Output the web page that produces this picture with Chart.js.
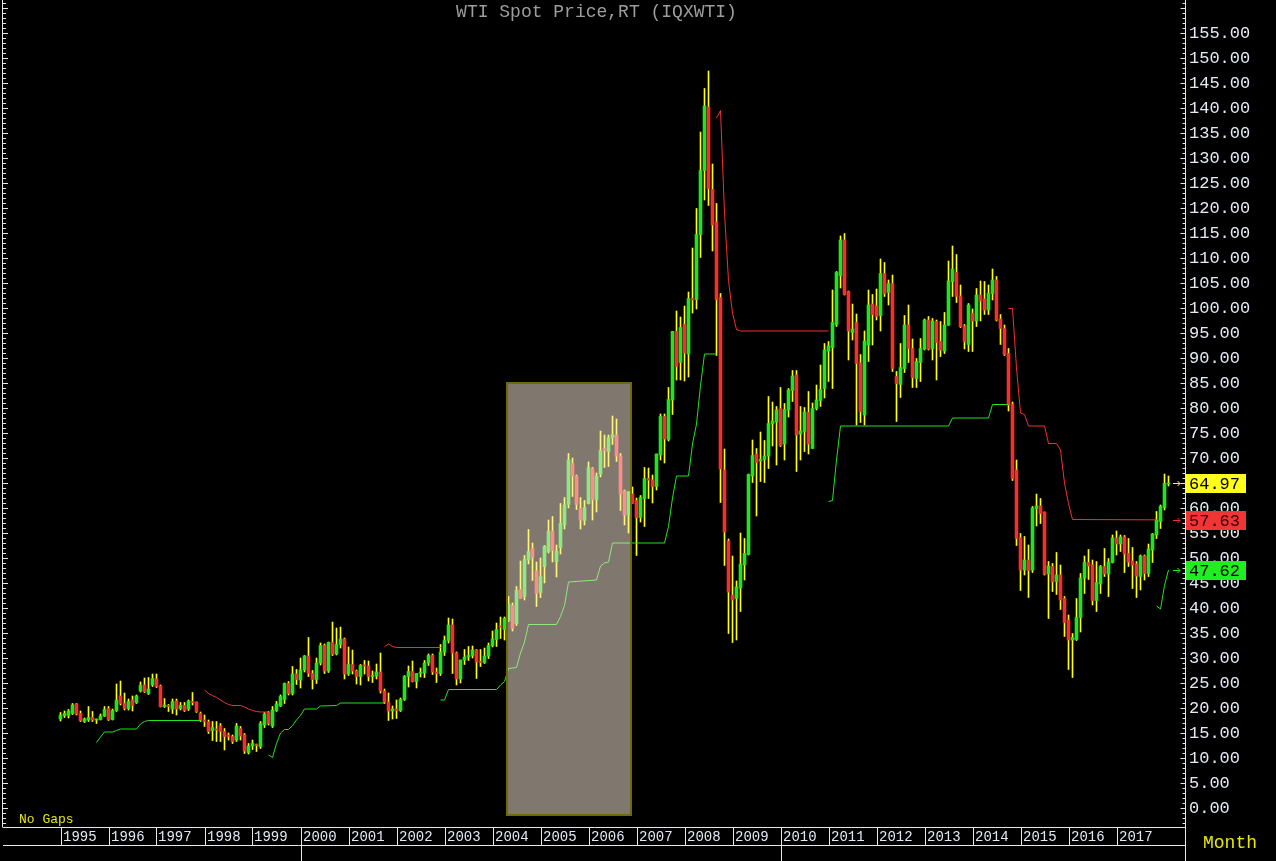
<!DOCTYPE html>
<html>
<head>
<meta charset="utf-8">
<title>WTI Spot Price,RT (IQXWTI)</title>
<script src="https://cdn.jsdelivr.net/npm/chart.js@4.4.1/dist/chart.umd.min.js"></script>
<style>
  html, body { margin: 0; padding: 0; background: #000; overflow: hidden; }
  canvas { display: block; }
</style>
</head>
<body>
<canvas id="wtiChart" width="1276" height="861"></canvas>
<script>
// monthly candles, index 0 = Jan 1995, last = Feb 2018
const openPrices = [
    17.8, 18.5, 18.5, 18.9, 20.8, 18.9, 17.3, 17.6, 18.1, 17.6, 17.7, 18.4,
    19.9, 17.7, 19.5, 22.4, 20.9, 19.9, 21.6, 21.1, 23.4, 24.6, 22.9, 24.6,
    25.8, 24.4, 20.3, 20.5, 19.8, 21.4, 19.9, 20.5, 19.8, 21.3, 21.2, 18.9,
    17.6, 17.2, 15.5, 15.8, 16.4, 15.3, 14.6, 14.3, 13.6, 15.9, 14.6, 11.1,
    12.4, 12.7, 12.3, 16.6, 19.1, 16.4, 19.5, 20.4, 21.7, 24.9, 22.9, 26.8,
    25.6, 27.6, 30.4, 26.9, 25.7, 29.0, 32.5, 27.4, 33.1, 30.8, 32.7, 33.8,
    26.8, 28.7, 27.4, 26.3, 28.5, 28.4, 26.3, 26.4, 27.2, 23.4, 21.2, 19.4,
    19.8, 19.5, 21.7, 26.3, 27.3, 25.3, 26.9, 27.0, 29.0, 30.5, 27.2, 26.9,
    31.2, 33.5, 36.6, 31.0, 25.8, 29.6, 30.2, 30.5, 31.6, 29.2, 29.1, 30.4,
    32.5, 33.7, 36.4, 35.7, 37.5, 40.5, 36.9, 43.7, 42.3, 49.6, 51.9, 47.4,
    43.1, 48.3, 51.3, 55.4, 49.3, 52.1, 56.6, 60.7, 68.9, 66.4, 59.9, 57.5,
    60.9, 67.9, 61.7, 66.8, 71.9, 71.3, 74.1, 74.6, 70.4, 63.4, 58.6, 62.8,
    61.5, 58.1, 61.9, 65.9, 65.6, 64.3, 70.6, 78.3, 73.7, 81.6, 95.3, 89.1,
    96.7, 90.8, 101.9, 101.7, 114.7, 127.5, 140.2, 123.7, 117.2, 102.1, 67.6, 53.4,
    42.6, 41.9, 44.0, 48.6, 50.7, 66.4, 70.8, 69.4, 69.7, 70.4, 76.8, 77.2,
    79.9, 72.8, 79.6, 83.5, 86.6, 74.8, 75.3, 79.1, 71.9, 79.9, 81.5, 83.9,
    91.4, 92.1, 96.7, 106.5, 113.6, 103.3, 95.1, 97.1, 89.0, 78.6, 92.6, 100.8,
    100.4, 98.5, 106.9, 103.1, 104.9, 86.3, 84.7, 87.9, 96.6, 91.9, 85.9, 89.1,
    91.8, 97.6, 91.8, 97.3, 93.3, 91.4, 96.6, 105.3, 107.1, 102.4, 96.4, 92.7,
    98.9, 97.4, 102.6, 101.8, 99.6, 102.9, 105.6, 97.8, 95.9, 90.9, 80.8, 67.6,
    54.0, 47.6, 49.6, 47.6, 59.9, 60.4, 59.2, 46.8, 48.3, 45.3, 46.6, 41.9,
    37.6, 33.6, 33.7, 38.1, 46.0, 49.1, 48.6, 41.5, 44.8, 48.3, 46.8, 49.1,
    54.0, 52.8, 54.2, 50.9, 49.4, 48.8, 46.3, 50.4, 46.9, 51.6, 54.6, 57.3,
    60.1, 64.8
];
const highPrices = [
    19.1, 19.4, 19.7, 20.9, 20.9, 19.4, 18.0, 20.3, 19.3, 17.8, 18.8, 20.3,
    20.3, 19.8, 24.8, 25.4, 23.0, 21.8, 22.4, 22.6, 25.2, 26.0, 26.1, 26.8,
    26.8, 24.6, 21.9, 20.7, 21.8, 21.8, 21.1, 21.1, 21.6, 23.1, 21.2, 19.2,
    18.6, 17.6, 17.3, 17.3, 16.9, 15.9, 15.0, 14.6, 16.9, 16.3, 14.9, 12.9,
    13.6, 12.8, 17.3, 19.1, 19.3, 20.3, 21.3, 22.6, 25.0, 25.3, 28.3, 27.7,
    30.0, 30.5, 34.1, 27.5, 30.0, 33.0, 32.8, 33.2, 37.2, 36.0, 36.2, 34.0,
    32.2, 31.6, 27.6, 28.7, 29.5, 29.4, 27.4, 28.8, 31.0, 23.8, 23.0, 20.4,
    21.6, 22.0, 26.5, 28.4, 29.4, 26.9, 28.0, 29.5, 30.8, 30.8, 28.0, 32.7,
    34.4, 38.0, 37.8, 31.2, 29.6, 31.7, 32.3, 32.4, 31.7, 31.7, 32.0, 33.0,
    35.4, 37.0, 38.2, 38.2, 42.3, 41.0, 44.3, 49.4, 50.5, 55.7, 53.0, 49.2,
    50.0, 52.5, 57.6, 58.3, 52.6, 60.9, 62.1, 70.9, 70.0, 66.6, 62.1, 61.5,
    69.2, 68.1, 67.0, 75.4, 74.6, 74.6, 78.4, 77.8, 70.9, 63.6, 62.5, 64.2,
    62.0, 62.5, 68.1, 68.0, 66.6, 70.8, 78.8, 78.8, 84.1, 95.3, 99.4, 98.2,
    100.4, 103.2, 112.0, 119.9, 135.2, 143.9, 147.4, 128.8, 120.9, 102.9, 71.8, 53.8,
    50.4, 45.4, 55.0, 53.9, 66.8, 73.6, 71.9, 75.2, 73.5, 82.3, 81.2, 80.3,
    84.1, 80.9, 83.9, 87.5, 87.5, 80.3, 80.1, 83.3, 81.0, 84.6, 88.6, 92.9,
    93.3, 103.6, 107.3, 114.4, 114.9, 103.4, 100.8, 98.8, 90.7, 95.4, 103.6, 102.7,
    103.8, 109.8, 109.1, 105.6, 106.6, 87.3, 92.9, 98.5, 100.6, 93.8, 89.9, 93.9,
    97.8, 98.3, 97.9, 97.6, 97.3, 99.1, 109.4, 112.4, 110.7, 104.6, 96.7, 100.9,
    99.8, 103.9, 105.4, 105.3, 104.6, 107.8, 106.3, 98.7, 96.6, 91.9, 81.2, 69.6,
    54.9, 54.3, 52.6, 60.3, 62.8, 61.9, 59.2, 49.3, 48.9, 51.1, 48.6, 42.3,
    38.6, 34.9, 41.9, 46.9, 50.4, 51.7, 49.6, 49.3, 48.5, 51.9, 49.9, 54.6,
    55.4, 54.6, 54.5, 53.9, 52.1, 49.3, 50.6, 50.6, 52.8, 54.9, 59.3, 60.6,
    66.8, 66.4
];
const lowPrices = [
    17.4, 18.1, 18.0, 18.7, 18.6, 17.3, 17.1, 17.3, 17.3, 16.9, 17.6, 18.3,
    17.5, 17.6, 19.3, 20.6, 19.6, 19.6, 19.4, 20.9, 23.2, 23.1, 22.7, 24.3,
    24.1, 20.2, 20.1, 19.3, 18.9, 18.6, 19.6, 19.3, 19.5, 20.6, 19.1, 17.3,
    16.3, 14.9, 13.5, 13.3, 13.3, 11.6, 13.6, 12.9, 13.3, 13.6, 10.9, 10.8,
    11.7, 11.3, 11.9, 16.1, 16.6, 16.1, 19.3, 20.3, 20.9, 22.6, 22.6, 24.7,
    24.0, 27.2, 26.3, 23.8, 24.9, 28.6, 26.9, 27.1, 30.5, 30.6, 32.0, 25.8,
    26.5, 26.8, 24.8, 24.6, 26.8, 25.4, 25.1, 25.8, 23.0, 20.9, 17.5, 17.8,
    17.9, 19.3, 21.5, 24.2, 25.2, 24.0, 26.2, 26.1, 28.5, 26.7, 25.1, 26.5,
    30.5, 33.0, 26.9, 24.6, 25.0, 28.7, 29.5, 30.0, 25.9, 28.3, 28.9, 29.9,
    32.2, 32.3, 33.9, 33.6, 37.3, 35.4, 36.5, 41.9, 41.6, 48.8, 45.5, 40.3,
    42.1, 45.0, 51.0, 49.2, 46.2, 50.8, 55.8, 60.0, 62.3, 59.7, 55.8, 56.6,
    60.8, 57.6, 59.2, 66.2, 68.1, 68.3, 72.7, 69.3, 59.5, 56.6, 55.0, 60.9,
    50.5, 57.2, 56.3, 61.9, 61.0, 63.6, 69.6, 69.0, 73.4, 78.7, 85.6, 85.6,
    85.4, 86.2, 99.0, 99.8, 110.1, 121.6, 120.5, 111.4, 90.5, 61.1, 48.5, 34.9,
    33.1, 33.6, 39.3, 45.6, 50.6, 65.1, 58.4, 65.3, 65.1, 67.9, 72.4, 68.6,
    72.3, 69.6, 78.2, 81.3, 67.3, 69.6, 71.3, 70.8, 71.9, 79.6, 80.3, 82.0,
    85.3, 83.9, 96.3, 104.0, 102.6, 89.6, 93.6, 76.6, 77.1, 76.6, 89.3, 92.6,
    97.6, 95.4, 102.3, 100.6, 87.3, 77.3, 82.1, 87.1, 89.1, 84.1, 84.1, 85.3,
    91.6, 91.6, 89.6, 85.6, 90.3, 90.9, 96.5, 102.3, 101.1, 96.1, 91.8, 91.3,
    91.3, 96.3, 97.4, 98.7, 98.7, 101.6, 97.4, 92.7, 90.5, 79.4, 65.5, 52.5,
    43.5, 46.6, 42.1, 47.1, 56.4, 56.9, 46.6, 37.9, 43.3, 42.7, 39.7, 34.3,
    27.7, 26.1, 33.5, 35.2, 42.9, 45.7, 40.6, 39.3, 42.9, 46.3, 42.3, 49.0,
    50.6, 51.3, 47.1, 48.3, 43.9, 42.1, 43.6, 45.6, 46.3, 49.1, 53.9, 55.9,
    59.6, 64.4
];
const closePrices = [
    18.6, 18.9, 19.4, 20.6, 18.8, 17.5, 17.8, 18.1, 17.6, 17.7, 18.4, 19.7,
    17.7, 19.5, 21.6, 20.9, 19.9, 21.3, 20.5, 22.4, 24.5, 23.3, 23.8, 25.9,
    24.3, 20.3, 20.6, 20.3, 21.3, 19.8, 20.5, 19.5, 21.4, 21.1, 19.3, 17.6,
    17.3, 15.3, 16.1, 15.6, 15.3, 14.3, 14.3, 13.3, 16.4, 14.4, 11.4, 12.4,
    12.9, 12.5, 16.9, 18.8, 16.9, 19.6, 20.8, 22.3, 24.9, 22.9, 26.8, 25.7,
    27.6, 30.4, 26.9, 25.7, 29.0, 32.5, 27.4, 33.1, 30.8, 32.7, 33.8, 26.8,
    28.7, 27.4, 26.3, 28.5, 28.4, 26.3, 26.4, 27.2, 23.4, 21.2, 19.4, 19.8,
    19.5, 21.7, 26.3, 27.3, 25.3, 26.9, 27.0, 29.0, 30.5, 27.2, 26.9, 31.2,
    33.5, 36.6, 31.0, 25.8, 29.6, 30.2, 30.5, 31.6, 29.2, 29.1, 30.4, 32.5,
    33.8, 35.7, 36.2, 37.9, 40.8, 35.9, 43.5, 41.9, 49.7, 51.3, 50.1, 42.9,
    46.3, 52.3, 55.3, 51.5, 51.4, 56.9, 60.6, 69.6, 66.4, 60.7, 57.6, 60.1,
    68.1, 61.7, 66.4, 71.5, 71.5, 74.1, 74.6, 70.4, 62.8, 58.6, 63.3, 60.9,
    58.1, 62.1, 65.9, 65.6, 64.3, 70.8, 78.3, 73.8, 81.7, 95.3, 88.3, 96.1,
    91.0, 101.9, 101.6, 114.7, 127.5, 140.4, 123.9, 116.6, 101.7, 67.8, 55.2, 43.2,
    41.6, 44.2, 48.8, 50.9, 66.7, 70.5, 69.1, 69.7, 70.4, 76.9, 77.4, 79.6,
    72.5, 79.7, 83.6, 86.4, 74.6, 75.4, 79.2, 72.8, 79.9, 81.6, 83.7, 91.6,
    92.4, 97.1, 107.1, 113.6, 102.7, 95.4, 95.8, 88.9, 79.3, 93.4, 100.6, 98.7,
    98.3, 106.9, 102.9, 104.9, 87.9, 84.9, 88.1, 96.6, 91.9, 86.1, 89.3, 91.9,
    97.6, 91.8, 97.4, 93.1, 91.6, 96.6, 105.4, 107.8, 102.3, 96.3, 93.3, 100.6,
    97.4, 102.6, 101.4, 99.6, 102.9, 105.6, 97.6, 95.9, 90.7, 80.6, 65.9, 53.9,
    47.6, 49.6, 47.5, 60.0, 60.4, 58.9, 46.8, 48.4, 45.3, 46.6, 41.6, 37.1,
    33.6, 34.1, 38.1, 46.0, 49.1, 48.4, 41.5, 45.1, 48.3, 46.8, 49.2, 54.0,
    52.8, 54.2, 50.8, 49.2, 48.6, 46.4, 50.4, 46.9, 51.8, 54.8, 57.6, 60.3,
    64.9, 64.97
];

// trailing stop lines as [month index, price] breakpoints, one list per segment
const greenStops = [
    [[9, 13.1], [10, 14.2], [11, 15.2], [13, 15.2], [14, 15.5], [15, 15.8], [19, 15.8], [20, 16.8], [21, 17.3], [22, 17.5], [35, 17.5]],
    [[52, 10.6], [53, 10.1], [54, 12.9], [55, 15.0], [56, 15.7], [57, 15.7], [58, 16.5], [59, 17.6], [60, 18.5], [61, 19.8], [64, 19.8], [65, 20.4], [69, 20.5], [70, 21.0], [81, 21.0]],
    [[95, 21.6], [96, 21.6], [97, 23.7], [109, 23.7], [110, 24.6], [111, 25.3], [112, 27.9], [114, 28.1], [115, 31.0], [116, 33.2], [117, 36.7], [124, 36.7], [125, 38.3], [126, 40.5], [127, 45.2], [134, 45.6], [135, 48.4], [136, 49.0], [137, 49.2], [138, 53.0], [151, 53.0], [152, 56.3], [153, 62.0], [154, 66.4], [157, 66.4], [158, 72.8], [159, 76.8], [160, 84.5], [161, 90.8], [164, 90.8]],
    [[192, 61.3], [193, 61.5], [194, 69.6], [195, 76.4], [222, 76.4], [223, 78.0], [232, 78.0], [233, 80.7], [237, 80.7]],
    [[274, 40.4], [275, 39.8], [276, 44.5], [277, 47.62]]
];
const redStops = [
    [[36, 23.6], [37, 22.9], [38, 22.5], [39, 22.1], [40, 21.6], [41, 21.1], [42, 20.7], [43, 20.5], [45, 20.5], [46, 20.2], [47, 19.8], [48, 19.5], [49, 19.3], [50, 19.2], [52, 19.2]],
    [[81, 32.3], [82, 32.8], [83, 32.3], [84, 32.1], [95, 32.1]],
    [[164, 138.0], [165, 139.5], [166, 119.0], [167, 105.5], [168, 99.0], [169, 95.7], [170, 95.4], [192, 95.4]],
    [[237, 99.9], [238, 99.9], [239, 88.0], [240, 79.0], [241, 78.7], [242, 76.4], [246, 76.4], [247, 72.9], [249, 72.9], [250, 71.6], [251, 65.0], [252, 60.9], [253, 57.7], [274, 57.63]]
];

const years = [1995, 1996, 1997, 1998, 1999, 2000, 2001, 2002, 2003, 2004, 2005, 2006,
               2007, 2008, 2009, 2010, 2011, 2012, 2013, 2014, 2015, 2016, 2017];
const priceTicks = [0, 5, 10, 15, 20, 25, 30, 35, 40, 45, 50, 55, 60, 65, 70, 75, 80,
                    85, 90, 95, 100, 105, 110, 115, 120, 125, 130, 135, 140, 145, 150, 155];
// shaded study box: first month, last month, bottom price, top price
const highlightBox = [111.375, 142.875, -1.6, 85.2];

const GREEN = '#1fe41f';
const RED = '#f23030';
const WICK = '#ffff14';
const MONO = '"Liberation Mono", "DejaVu Sans Mono", monospace';

function stopPoints(segments) {
    const pts = [];
    segments.forEach((seg, n) => {
        if (n > 0) pts.push({ x: seg[0][0] - 0.5, y: null });
        seg.forEach(p => pts.push({ x: p[0], y: p[1] }));
    });
    return pts;
}

const bodies = closePrices.map((c, i) => ({ x: i, y: [openPrices[i], c] }));
const wicks = closePrices.map((c, i) => ({ x: i, y: [lowPrices[i], highPrices[i]] }));
const bodyColors = closePrices.map((c, i) => c >= openPrices[i] ? GREEN : RED);

const lastGreen = greenStops[greenStops.length - 1];
const lastRed = redStops[redStops.length - 1];
const valueTags = [
    { value: closePrices[closePrices.length - 1], bg: '#ffff1a', fg: '#000', arrow: '#ffff1a' },
    { value: lastRed[lastRed.length - 1][1], bg: '#f23434', fg: '#2a0000', arrow: '#f23434' },
    { value: lastGreen[lastGreen.length - 1][1], bg: '#20ee20', fg: '#000', arrow: '#20ee20' }
];

function line(c, x1, y1, x2, y2) {
    c.beginPath();
    c.moveTo(x1, y1);
    c.lineTo(x2, y2);
    c.stroke();
}

const terminalDecor = {
    id: 'terminalDecor',
    beforeDraw(chart) {
        const c = chart.ctx;
        c.save();
        c.fillStyle = '#000';
        c.fillRect(0, 0, chart.width, chart.height);
        c.restore();
    },
    afterDatasetsDraw(chart) {
        const c = chart.ctx;
        const { x, y } = chart.scales;
        const x0 = Math.round(x.getPixelForValue(highlightBox[0]));
        const x1 = Math.round(x.getPixelForValue(highlightBox[1]));
        const y0 = Math.round(y.getPixelForValue(highlightBox[3]));
        const y1 = Math.round(y.getPixelForValue(highlightBox[2]));
        c.save();
        c.fillStyle = 'rgba(255, 238, 222, 0.5)';
        c.fillRect(x0, y0, x1 - x0, y1 - y0);
        c.strokeStyle = '#6e6b06';
        c.lineWidth = 2;
        c.strokeRect(x0 + 1, y0 + 1, x1 - x0 - 2, y1 - y0 - 2);
        c.restore();
    },
    afterDraw(chart) {
        const c = chart.ctx;
        const { x, y } = chart.scales;
        const area = chart.chartArea;
        const stripTop = area.bottom + 1.5;
        const stripBottom = 845.5;
        const axisX = area.right + 0.5;
        c.save();
        c.strokeStyle = '#e8e8e8';
        c.lineWidth = 1;

        // left ruler and right price axis ticks
        line(c, 2.5, 0, 2.5, stripTop);
        for (let v = -3; v <= 161; v++) {
            const py = Math.round(y.getPixelForValue(v)) + 0.5;
            const len = v % 5 === 0 ? 5 : 3;
            line(c, 3, py, 3 + len, py);
            line(c, axisX - len, py, axisX, py);
        }
        line(c, axisX, 0, axisX, chart.height);

        // date strip
        line(c, 3, stripTop, axisX, stripTop);
        line(c, 3, stripBottom, axisX, stripBottom);
        line(c, 301.5, stripBottom, 301.5, chart.height);
        line(c, 781.5, stripBottom, 781.5, chart.height);
        c.font = '14px ' + MONO;
        c.textBaseline = 'middle';
        c.textAlign = 'left';
        c.fillStyle = '#e2e9f2';
        years.forEach((yr, k) => {
            const px = Math.round(x.getPixelForValue(k * 12)) + 0.5;
            line(c, px, stripTop, px, stripBottom);
            c.fillText(String(yr), px + 1.5, 837);
        });

        // texts
        c.fillStyle = '#9d9d9d';
        c.font = '18px ' + MONO;
        c.textAlign = 'center';
        c.fillText('WTI Spot Price,RT (IQXWTI)', (area.left + area.right) / 2, 12);
        c.textAlign = 'left';
        c.fillStyle = '#e8e800';
        c.font = '13px ' + MONO;
        c.fillText('No Gaps', 19, 820);
        c.font = '18px ' + MONO;
        c.fillText('Month', 1203, 843);

        // last value tags with arrows
        c.font = '17px ' + MONO;
        valueTags.forEach(t => {
            const py = Math.round(y.getPixelForValue(t.value));
            c.fillStyle = t.bg;
            c.fillRect(area.right + 1, py - 9, 60, 19);
            c.fillStyle = t.fg;
            c.fillText(t.value.toFixed(2), area.right + 4, py + 1);
            c.strokeStyle = t.arrow;
            line(c, 1173, py + 0.5, 1180, py + 0.5);
            line(c, 1177.5, py - 2, 1180, py + 0.5);
            line(c, 1177.5, py + 3, 1180, py + 0.5);
        });
        c.restore();
    }
};

new Chart(document.getElementById('wtiChart'), {
    type: 'bar',
    data: {
        datasets: [
            {
                type: 'line',
                data: stopPoints(greenStops),
                borderColor: GREEN,
                borderWidth: 1,
                pointRadius: 0,
                spanGaps: false,
                tension: 0,
                order: 0
            },
            {
                type: 'line',
                data: stopPoints(redStops),
                borderColor: RED,
                borderWidth: 1,
                pointRadius: 0,
                spanGaps: false,
                tension: 0,
                order: 0
            },
            {
                data: bodies,
                backgroundColor: bodyColors,
                barThickness: 3,
                minBarLength: 1,
                borderWidth: 0,
                grouped: false,
                order: 1
            },
            {
                data: wicks,
                backgroundColor: WICK,
                barThickness: 1,
                borderWidth: 0,
                grouped: false,
                order: 2
            }
        ]
    },
    options: {
        responsive: false,
        animation: false,
        events: [],
        layout: { padding: { left: 8, right: 0, top: 0, bottom: 35 } },
        plugins: { legend: { display: false }, tooltip: { enabled: false }, title: { display: false } },
        scales: {
            x: { type: 'linear', min: -13.125, max: 281.125, offset: false, display: false },
            y: {
                type: 'linear',
                position: 'right',
                min: -3.6,
                max: 161.6,
                grid: { display: false, drawTicks: false },
                border: { display: false },
                ticks: {
                    autoSkip: false,
                    padding: 4,
                    color: '#e4eaf4',
                    font: { family: 'Liberation Mono', size: 17 },
                    callback: v => Number(v).toFixed(2)
                },
                afterBuildTicks: s => { s.ticks = priceTicks.map(v => ({ value: v })); },
                afterFit: s => { s.width = 91; s.paddingTop = 0; s.paddingBottom = 0; }
            }
        }
    },
    plugins: [terminalDecor]
});
</script>
</body>
</html>
